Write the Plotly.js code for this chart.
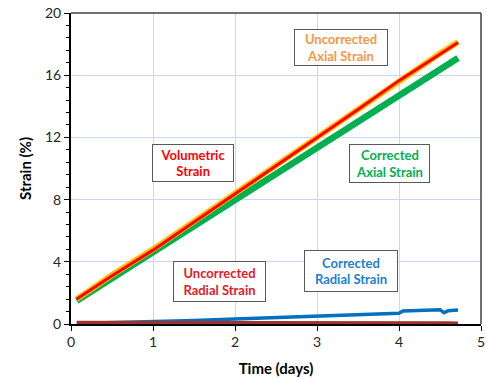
<!DOCTYPE html>
<html>
<head>
<meta charset="utf-8">
<script src="https://cdn.plot.ly/plotly-3.0.1.min.js"></script>
<style>html,body{margin:0;padding:0;background:#fff;}#chart{width:486px;height:379px;}</style>
</head>
<body>
<div id="chart"></div>
<script>
// Axial / volumetric series
const timeAxial = [0.07, 0.5, 1.0, 1.5, 2.0, 2.5, 3.0, 3.5, 4.0, 4.25, 4.35, 4.5, 4.72];
const uncorrectedAxial = [1.6, 3.15, 4.8, 6.6, 8.45, 10.2, 12.0, 13.85, 15.7, 16.55, 16.9, 17.4, 18.13];
const volumetric = [1.6, 3.1, 4.75, 6.55, 8.4, 10.15, 11.95, 13.8, 15.65, 16.5, 16.85, 17.35, 18.1];
const correctedAxial = [1.5, 2.95, 4.6, 6.3, 8.0, 9.7, 11.4, 13.05, 14.7, 15.55, 15.85, 16.35, 17.1];
// Radial series
const timeRadial = [0.07, 0.5, 1.0, 1.5, 2.0, 2.5, 3.0, 3.5, 4.0, 4.05, 4.3, 4.5, 4.55, 4.6, 4.72];
const correctedRadial = [0.03, 0.08, 0.15, 0.22, 0.32, 0.42, 0.53, 0.61, 0.69, 0.84, 0.88, 0.92, 0.72, 0.85, 0.9];
const uncorrectedRadial = [0.08, 0.08, 0.09, 0.1, 0.1, 0.1, 0.09, 0.08, 0.08, 0.08, 0.07, 0.07, 0.06, 0.05, 0.03];

const xTicks = [0, 1, 2, 3, 4, 5];
const yTicks = [0, 4, 8, 12, 16, 20];

const labels = [
  {text: 'Volumetric<br>Strain', x: 1.49, y: 10.34, color: '#ff0000', w: 76, h: 32},
  {text: 'Uncorrected<br>Axial Strain', x: 3.29, y: 17.75, color: '#f79646', w: 88, h: 31},
  {text: 'Corrected<br>Axial Strain', x: 3.88, y: 10.31, color: '#00b050', w: 75, h: 33},
  {text: 'Uncorrected<br>Radial Strain', x: 1.81, y: 2.74, color: '#e0202a', w: 87, h: 35},
  {text: 'Corrected<br>Radial Strain', x: 3.41, y: 3.42, color: '#2080d0', w: 88, h: 36}
];

const FONT = 'Lato, "Open Sans", "Liberation Sans", sans-serif';

const traces = [
  {x: timeRadial, y: correctedRadial, mode: 'lines', line: {color: '#0070c0', width: 3.5}, name: 'Corrected Radial Strain'},
  {x: timeRadial, y: uncorrectedRadial, mode: 'lines', line: {color: '#a0322e', width: 4}, name: 'Uncorrected Radial Strain'},
  {x: timeAxial, y: correctedAxial, mode: 'lines', line: {color: '#00b050', width: 6.5}, name: 'Corrected Axial Strain'},
  {x: timeAxial, y: uncorrectedAxial, mode: 'lines', line: {color: '#ffc000', width: 6}, name: 'Uncorrected Axial Strain'},
  {x: timeAxial, y: volumetric, mode: 'lines', line: {color: '#ff0000', width: 3}, name: 'Volumetric Strain'}
];

const layout = {
  width: 486, height: 379,
  margin: {l: 71, r: 5, t: 13, b: 55},
  paper_bgcolor: '#fff', plot_bgcolor: '#fff',
  showlegend: false,
  font: {family: FONT, size: 14, color: '#262626'},
  xaxis: {
    range: [0, 5], tickvals: xTicks, ticktext: xTicks.map(String),
    ticks: 'outside', ticklen: 5, tickcolor: '#000', tickwidth: 1,
    showline: true, linecolor: '#000', linewidth: 1.5,
    showgrid: true, gridcolor: '#c6d9f1', gridwidth: 1, zeroline: false,
    tickfont: {size: 14, color: '#262626'},
    title: {text: '<b>Time (days)</b>', font: {size: 15, color: '#000'}, standoff: 14}
  },
  yaxis: {
    range: [0, 20], tickvals: yTicks, ticktext: yTicks.map(String),
    ticks: 'outside', ticklen: 5, tickcolor: '#000', tickwidth: 1,
    minor: {dtick: 0.8, ticks: 'outside', ticklen: 3, tickcolor: '#000', showgrid: false},
    showline: true, linecolor: '#000', linewidth: 2,
    showgrid: true, gridcolor: '#c6d9f1', gridwidth: 1, zeroline: false,
    tickfont: {size: 14, color: '#262626'},
    title: {text: '<b>Strain (%)</b>', font: {size: 15, color: '#000'}, standoff: 10}
  },
  shapes: [
    {type: 'line', xref: 'paper', yref: 'paper', x0: 0, x1: 1, y0: 1, y1: 1, line: {color: '#404040', width: 1.5}},
    {type: 'line', xref: 'paper', yref: 'paper', x0: 1, x1: 1, y0: 0, y1: 1, line: {color: '#404040', width: 1.5}}
  ],
  annotations: labels.map(a => ({
    x: a.x, y: a.y, xref: 'x', yref: 'y', text: '<b>' + a.text + '</b>', showarrow: false,
    font: {family: FONT, size: 13, color: a.color},
    bgcolor: '#fff', bordercolor: '#595959', borderwidth: 1, borderpad: 2,
    width: a.w, height: a.h, align: 'center', valign: 'middle'
  }))
};

Plotly.newPlot('chart', traces, layout, {staticPlot: true, displayModeBar: false});
</script>
</body>
</html>
